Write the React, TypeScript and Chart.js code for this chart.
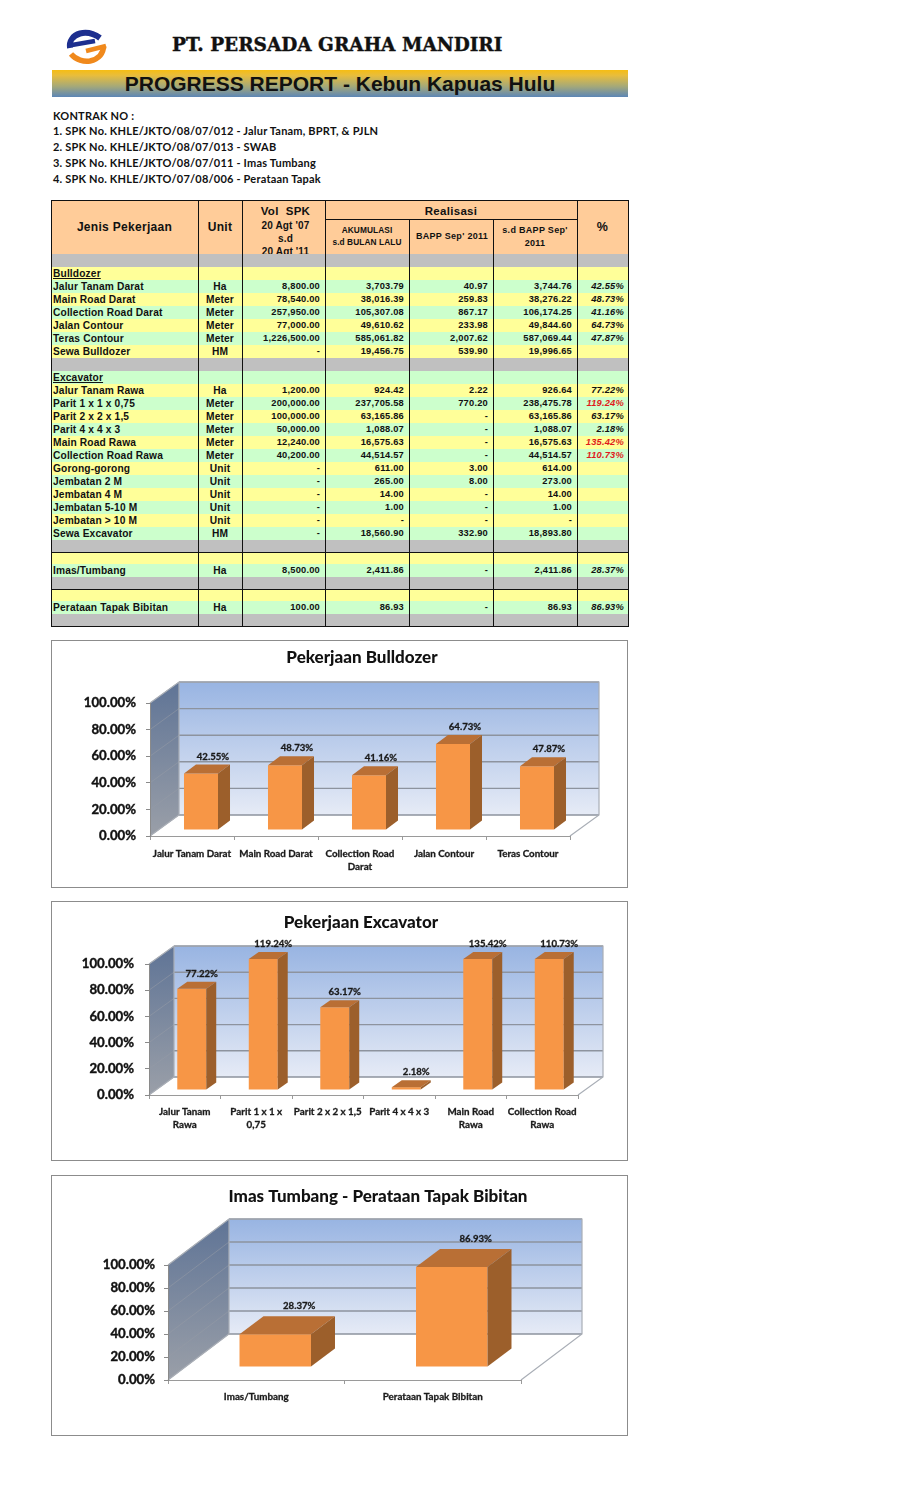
import React, { useEffect, useRef } from "react";
import { Chart, registerables } from "chart.js";

Chart.register(...registerables);

// ---------- data ----------
const contractLines = [
  "KONTRAK NO :",
  "1. SPK No. KHLE/JKTO/08/07/012 - Jalur Tanam, BPRT, & PJLN",
  "2. SPK No. KHLE/JKTO/08/07/013 - SWAB",
  "3. SPK No. KHLE/JKTO/08/07/011 - Imas Tumbang",
  "4. SPK No. KHLE/JKTO/07/08/006 - Perataan Tapak",
];

const tableRows: string[][] = [
  ["", "", "", "", "", "", ""],
  ["Bulldozer", "", "", "", "", "", ""],
  ["Jalur Tanam Darat", "Ha", "8,800.00", "3,703.79", "40.97", "3,744.76", "42.55%"],
  ["Main Road Darat", "Meter", "78,540.00", "38,016.39", "259.83", "38,276.22", "48.73%"],
  ["Collection Road Darat", "Meter", "257,950.00", "105,307.08", "867.17", "106,174.25", "41.16%"],
  ["Jalan Contour", "Meter", "77,000.00", "49,610.62", "233.98", "49,844.60", "64.73%"],
  ["Teras Contour", "Meter", "1,226,500.00", "585,061.82", "2,007.62", "587,069.44", "47.87%"],
  ["Sewa Bulldozer", "HM", "-", "19,456.75", "539.90", "19,996.65", ""],
  ["", "", "", "", "", "", ""],
  ["Excavator", "", "", "", "", "", ""],
  ["Jalur Tanam Rawa", "Ha", "1,200.00", "924.42", "2.22", "926.64", "77.22%"],
  ["Parit 1 x 1 x 0,75", "Meter", "200,000.00", "237,705.58", "770.20", "238,475.78", "119.24%"],
  ["Parit 2 x 2 x 1,5", "Meter", "100,000.00", "63,165.86", "-", "63,165.86", "63.17%"],
  ["Parit 4 x 4 x 3", "Meter", "50,000.00", "1,088.07", "-", "1,088.07", "2.18%"],
  ["Main Road Rawa", "Meter", "12,240.00", "16,575.63", "-", "16,575.63", "135.42%"],
  ["Collection Road Rawa", "Meter", "40,200.00", "44,514.57", "-", "44,514.57", "110.73%"],
  ["Gorong-gorong", "Unit", "-", "611.00", "3.00", "614.00", ""],
  ["Jembatan 2 M", "Unit", "-", "265.00", "8.00", "273.00", ""],
  ["Jembatan 4 M", "Unit", "-", "14.00", "-", "14.00", ""],
  ["Jembatan 5-10 M", "Unit", "-", "1.00", "-", "1.00", ""],
  ["Jembatan > 10 M", "Unit", "-", "-", "-", "-", ""],
  ["Sewa Excavator", "HM", "-", "18,560.90", "332.90", "18,893.80", ""],
  ["", "", "", "", "", "", ""],
  ["", "", "", "", "", "", ""],
  ["Imas/Tumbang", "Ha", "8,500.00", "2,411.86", "-", "2,411.86", "28.37%"],
  ["", "", "", "", "", "", ""],
  ["", "", "", "", "", "", ""],
  ["Perataan Tapak Bibitan", "Ha", "100.00", "86.93", "-", "86.93", "86.93%"],
  ["", "", "", "", "", "", ""],
];

const bulldozerLabels = ["Jalur Tanam Darat", "Main Road Darat", ["Collection Road", "Darat"], "Jalan Contour", "Teras Contour"];
const bulldozerValues = [42.55, 48.73, 41.16, 64.73, 47.87];

const excavatorLabels = [["Jalur Tanam", "Rawa"], ["Parit 1 x 1 x", "0,75"], "Parit 2 x 2 x 1,5", "Parit 4 x 4 x 3", ["Main Road", "Rawa"], ["Collection Road", "Rawa"]];
const excavatorValues = [77.22, 119.24, 63.17, 2.18, 135.42, 110.73];

const imasLabels = ["Imas/Tumbang", "Perataan Tapak Bibitan"];
const imasValues = [28.37, 86.93];

// ---------- table layout ----------
const G = "#c0c0c0", Y = "#ffff99", N = "#ccffcc";
const rowFill = [G, Y, N, Y, N, Y, N, Y, G, N, Y, N, Y, N, Y, N, Y, N, Y, N, Y, N, G, Y, N, G, Y, N, G];
const rowHeight = [13, 13, 13, 13, 13, 13, 13, 13, 13, 13, 13, 13, 13, 13, 13, 13, 13, 13, 13, 13, 13, 13, 12, 12, 13, 12, 12, 13, 13];
const colX = [51, 198, 242, 325, 409, 493, 577, 628];
const ARIAL = '"Liberation Sans", Arial, sans-serif';
const LATO = "Lato, sans-serif";

function abs(left: number, top: number, width: number, height: number, extra: any = {}) {
  return { position: "absolute", left, top, width, height, ...extra } as React.CSSProperties;
}

function Hdr({ x, y, w, size, sp = 0.3, children }: any) {
  return (
    <div style={abs(x, y - 10, w, 20, { textAlign: "center", lineHeight: "20px", fontFamily: ARIAL, fontWeight: 700, fontSize: size, color: "#111", whiteSpace: "nowrap", letterSpacing: sp })}>
      {children}
    </div>
  );
}

function Table() {
  let y = 254;
  const rows = tableRows.map((r, i) => {
    const top = y;
    const h = rowHeight[i];
    y += h;
    const underline = r[0] === "Bulldozer" || r[0] === "Excavator";
    const cellStyle = { fontFamily: ARIAL, fontWeight: 700, fontSize: 10.2, lineHeight: `${h}px`, color: "#111", whiteSpace: "nowrap", letterSpacing: 0.15 };
    return (
      <div key={i} style={abs(colX[0], top, colX[7] - colX[0], h, { background: rowFill[i] })}>
        <div style={abs(2, 0, 145, h, { ...cellStyle, textDecoration: underline ? "underline" : "none" })}>{r[0]}</div>
        <div style={abs(colX[1] - colX[0], 0, colX[2] - colX[1], h, { ...cellStyle, textAlign: "center" })}>{r[1]}</div>
        {[2, 3, 4, 5].map((c) => (
          <div key={c} style={abs(colX[c] - colX[0], 0, colX[c + 1] - colX[c] - 5, h, { ...cellStyle, fontSize: 9.3, letterSpacing: 0.22, textAlign: "right" })}>{r[c]}</div>
        ))}
        <div style={abs(colX[6] - colX[0], 0, colX[7] - colX[6] - 4, h, {
          ...cellStyle, fontSize: 9.3, letterSpacing: 0.22, textAlign: "right", fontStyle: "italic",
          color: parseFloat(r[6]) > 100 ? "#e01b1b" : "#111",
        })}>{r[6]}</div>
      </div>
    );
  });
  const tableBottom = y;
  return (
    <>
      <div style={abs(colX[0], 200, colX[7] - colX[0], 54, { background: "#ffcc99" })} />
      {rows}
      <Hdr x={colX[0]} y={227} w={147} size={12}>Jenis Pekerjaan</Hdr>
      <Hdr x={colX[1]} y={227} w={44} size={12}>Unit</Hdr>
      <div style={abs(colX[2], 200, 83, 54, { overflow: "hidden" })}>
        <Hdr x={2} y={11} w={83} size={11.5}>Vol&nbsp; SPK</Hdr>
        <Hdr x={2} y={26} w={83} size={10} sp={0.15}>20 Agt '07</Hdr>
        <Hdr x={2} y={39} w={83} size={10} sp={0.15}>s.d</Hdr>
        <Hdr x={2} y={52} w={83} size={10} sp={0.15}>20 Agt '11</Hdr>
      </div>
      <Hdr x={colX[3]} y={211} w={252} size={11.5}>Realisasi</Hdr>
      <Hdr x={colX[3]} y={230} w={84} size={8.3} sp={0.1}>AKUMULASI</Hdr>
      <Hdr x={colX[3]} y={242} w={84} size={8.3} sp={0.1}>s.d BULAN LALU</Hdr>
      <Hdr x={colX[4] + 1} y={236} w={84} size={9}>BAPP Sep' 2011</Hdr>
      <Hdr x={colX[5]} y={230} w={84} size={9}>s.d BAPP Sep'</Hdr>
      <Hdr x={colX[5]} y={243} w={84} size={9}>2011</Hdr>
      <Hdr x={colX[6]} y={227} w={51} size={12.5}>%</Hdr>
      {colX.map((x, i) => (
        <div key={i} style={abs(x - 0.5, i === 4 || i === 5 ? 219 : 200, 1.5, tableBottom - (i === 4 || i === 5 ? 219 : 200), { background: "#111" })} />
      ))}
      {[200, 219, 552, 589, tableBottom - 1].map((ly, i) => (
        <div key={i} style={abs(ly === 219 ? colX[3] : colX[0], ly, ly === 219 ? colX[6] - colX[3] : colX[7] - colX[0] + 1, 1.2, { background: "#111" })} />
      ))}
    </>
  );
}

// ---------- 3-D column plugin ----------
const depth3d = {
  id: "depth3d",
  beforeDraw(chart: any, _a: any, o: any) {
    const { ctx, chartArea: a, scales } = chart;
    const y = scales.y;
    ctx.save();
    let g = ctx.createLinearGradient(0, a.top - o.dy, 0, a.bottom - o.dy);
    g.addColorStop(0, "#98b4e2");
    g.addColorStop(1, "#e6ebf6");
    ctx.fillStyle = g;
    ctx.fillRect(a.left + o.dx, a.top - o.dy, a.right - a.left, a.bottom - a.top);
    g = ctx.createLinearGradient(0, a.top - o.dy, 0, a.bottom);
    g.addColorStop(0, "#5f7496");
    g.addColorStop(1, "#9a9fa8");
    ctx.fillStyle = g;
    ctx.beginPath();
    ctx.moveTo(a.left, a.top);
    ctx.lineTo(a.left + o.dx, a.top - o.dy);
    ctx.lineTo(a.left + o.dx, a.bottom - o.dy);
    ctx.lineTo(a.left, a.bottom);
    ctx.closePath();
    ctx.fill();
    y.ticks.forEach((t: any) => {
      const py = y.getPixelForValue(t.value);
      ctx.strokeStyle = "rgba(150,155,165,0.55)";
      ctx.lineWidth = 1;
      ctx.beginPath();
      ctx.moveTo(a.left, py);
      ctx.lineTo(a.left + o.dx, py - o.dy);
      ctx.stroke();
      ctx.strokeStyle = "#8d939e";
      ctx.lineWidth = 1.4;
      ctx.beginPath();
      ctx.moveTo(a.left + o.dx, py - o.dy);
      ctx.lineTo(a.right + o.dx, py - o.dy);
      ctx.stroke();
    });
    ctx.strokeStyle = "#a9aeb6";
    ctx.lineWidth = 1.2;
    ctx.beginPath();
    ctx.moveTo(a.left, a.top);
    ctx.lineTo(a.left + o.dx, a.top - o.dy);
    ctx.lineTo(a.right + o.dx, a.top - o.dy);
    ctx.lineTo(a.right + o.dx, a.bottom - o.dy);
    ctx.lineTo(a.right, a.bottom);
    ctx.moveTo(a.left + o.dx, a.top - o.dy);
    ctx.lineTo(a.left + o.dx, a.bottom - o.dy);
    ctx.lineTo(a.left, a.bottom);
    ctx.stroke();
    ctx.restore();
  },
  beforeDatasetsDraw(chart: any, _a: any, o: any) {
    chart.ctx.save();
    chart.ctx.translate(o.barDx, -o.barDy);
  },
  afterDatasetsDraw(chart: any, _a: any, o: any) {
    const { ctx, chartArea: a } = chart;
    chart.getDatasetMeta(0).data.forEach((el: any) => {
      const p = el.getProps(["x", "y", "base", "width"], true);
      const top = Math.max(p.y, a.top);
      const l = p.x - p.width / 2, r = p.x + p.width / 2;
      ctx.fillStyle = "#b96f35";
      ctx.beginPath();
      ctx.moveTo(l, top);
      ctx.lineTo(l + o.depthX, top - o.depthY);
      ctx.lineTo(r + o.depthX, top - o.depthY);
      ctx.lineTo(r, top);
      ctx.closePath();
      ctx.fill();
      ctx.fillStyle = "#9c5f2b";
      ctx.beginPath();
      ctx.moveTo(r, top);
      ctx.lineTo(r + o.depthX, top - o.depthY);
      ctx.lineTo(r + o.depthX, p.base - o.depthY);
      ctx.lineTo(r, p.base);
      ctx.closePath();
      ctx.fill();
    });
    ctx.restore();
    ctx.save();
    ctx.font = `700 ${o.labelSize}px ${LATO}`;
    ctx.fillStyle = "#1a1a1a";
    ctx.strokeStyle = "#1a1a1a";
    ctx.lineWidth = 0.3;
    ctx.textAlign = "center";
    ctx.textBaseline = "middle";
    chart.getDatasetMeta(0).data.forEach((el: any, i: number) => {
      const p = el.getProps(["x", "y"], true);
      const v = chart.data.datasets[0].data[i];
      const top = Math.max(p.y, a.top) - o.barDy;
      const lx = p.x + o.barDx + o.depthX, ly = top - o.depthY - o.labelGap;
      ctx.fillText(v.toFixed(2) + "%", lx, ly);
      ctx.strokeText(v.toFixed(2) + "%", lx, ly);
    });
    ctx.restore();
  },
  afterLayout(chart: any, _a: any, o: any) {
    const t = chart.titleBlock;
    if (t) {
      t.left = o.titleX - 250;
      t.right = o.titleX + 250;
      t.top = o.titleY - 11;
      t.bottom = o.titleY + 11;
    }
  },
};

function Column3D({ box, area, labels, values, title, d }: any) {
  const ref = useRef<HTMLCanvasElement>(null);
  useEffect(() => {
    const chart = new Chart(ref.current as any, {
      type: "bar",
      data: {
        labels,
        datasets: [{ data: values, backgroundColor: "#f79646", borderWidth: 0, barPercentage: 0.405, categoryPercentage: 1, clip: 0 } as any],
      },
      plugins: [depth3d as any],
      options: {
        animation: false,
        responsive: false,
        layout: {
          padding: { top: area.top - box.y - 22, left: 0, right: box.x + box.w - area.right, bottom: 0 },
        },
        plugins: {
          legend: { display: false },
          tooltip: { enabled: false },
          title: {
            display: true, text: title, color: "#111", padding: 0,
            font: { family: LATO, weight: 900, size: 17, lineHeight: "22px" },
          },
          depth3d: { ...d, titleX: area.titleX - box.x, titleY: area.titleY - box.y },
        } as any,
        scales: {
          x: {
            offset: true,
            grid: { drawOnChartArea: false, tickLength: 4, color: "#9a9a9a", offset: true },
            border: { color: "#9a9a9a" },
            ticks: { color: "#1a1a1a", maxRotation: 0, autoSkip: false, padding: d.xPad, textStrokeColor: "#1a1a1a", textStrokeWidth: 0.3, font: { family: LATO, weight: "bold", size: 9.8, lineHeight: "13px" } },
            afterFit: (s: any) => { s.height = box.y + box.h - area.bottom; },
          },
          y: {
            min: 0, max: 100,
            grid: { drawOnChartArea: false, tickLength: 4, color: "#8a8a8a" },
            border: { color: "#8a8a8a" },
            ticks: { stepSize: 20, color: "#111", padding: d.yPad, textStrokeColor: "#111", textStrokeWidth: 0.4, font: { family: LATO, weight: "bold", size: 13.2 }, callback: (v: any) => Number(v).toFixed(2) + "%" },
            afterFit: (s: any) => { s.width = area.left - box.x; },
          },
        },
      } as any,
    });
    return () => chart.destroy();
  }, []);
  return (
    <>
      <div style={abs(box.x, box.y, box.w, box.h, { boxSizing: "border-box", border: "1px solid #8c8c8c", background: "#fff" })} />
      <canvas ref={ref} width={box.w} height={box.h} style={abs(box.x, box.y, box.w, box.h, { display: "block" })} />
    </>
  );
}

function Logo() {
  return (
    <svg style={abs(60, 24, 54, 44)} viewBox="60 24 54 44" fill="none">
      <path d="M100 38 C93 33 86 32 80 33.5 C73 35.5 69 41 70 48" stroke="#1d2f8f" strokeWidth="6" />
      <path d="M72 45 L95 41" stroke="#1d2f8f" strokeWidth="4.5" />
      <path d="M71 54 C76 60 84 62 90 61 C99 59 103.5 53 103.5 46" stroke="#f0891c" strokeWidth="5.5" />
      <path d="M86 51 L106 46" stroke="#f0891c" strokeWidth="4.5" />
    </svg>
  );
}

export default function App() {
  return (
    <div style={abs(0, 0, 918, 1512, { background: "#fff", overflow: "hidden", filter: "blur(0.35px)" })}>
      <Logo />
      <div style={abs(172, 32, 340, 26, { fontFamily: '"DejaVu Serif"', fontWeight: 700, fontSize: 18.5, lineHeight: "26px", color: "#111", whiteSpace: "nowrap", WebkitTextStroke: "0.4px #111" } as any)}>
        PT. PERSADA GRAHA MANDIRI
      </div>
      <div style={abs(52, 70, 576, 27, { background: "linear-gradient(#f6bd14 0%, #e8bd3c 20%, #a6a978 60%, #5c86b6 100%)" })} />
      <div style={abs(52, 70, 576, 27, { textAlign: "center", fontFamily: ARIAL, fontWeight: 700, fontSize: 21, lineHeight: "27px", color: "#111", whiteSpace: "nowrap" })}>
        PROGRESS REPORT - Kebun Kapuas Hulu
      </div>
      {contractLines.map((t, i) => (
        <div key={i} style={abs(53, i === 0 ? 109 : 124 + (i - 1) * 16, 500, 14, { fontFamily: LATO, fontWeight: 700, fontSize: 11, lineHeight: "14px", color: "#111", whiteSpace: "nowrap", letterSpacing: 0.2 })}>{t}</div>
      ))}
      <Table />
      <Column3D
        box={{ x: 51, y: 640, w: 577, h: 248 }}
        area={{ left: 150, right: 570, top: 703, bottom: 836, titleX: 362, titleY: 658 }}
        labels={bulldozerLabels} values={bulldozerValues} title="Pekerjaan Bulldozer"
        d={{ dx: 29, dy: 21, barDx: 9, barDy: 6, depthX: 12, depthY: 9, labelGap: 8, labelSize: 9.6, xPad: 7, yPad: 10 }}
      />
      <Column3D
        box={{ x: 51, y: 901, w: 577, h: 260 }}
        area={{ left: 149, right: 578, top: 964, bottom: 1095, titleX: 361, titleY: 923 }}
        labels={excavatorLabels} values={excavatorValues} title="Pekerjaan Excavator"
        d={{ dx: 25, dy: 18, barDx: 7, barDy: 5, depthX: 10, depthY: 7, labelGap: 8, labelSize: 9.6, xPad: 6, yPad: 11 }}
      />
      <Column3D
        box={{ x: 51, y: 1175, w: 577, h: 261 }}
        area={{ left: 168, right: 521, top: 1265, bottom: 1380, titleX: 378, titleY: 1197 }}
        labels={imasLabels} values={imasValues} title="Imas Tumbang - Perataan Tapak Bibitan"
        d={{ dx: 61, dy: 46, barDx: 19, barDy: 13, depthX: 24, depthY: 18, labelGap: 10, labelSize: 9.6, xPad: 6, yPad: 9 }}
      />
    </div>
  );
}
